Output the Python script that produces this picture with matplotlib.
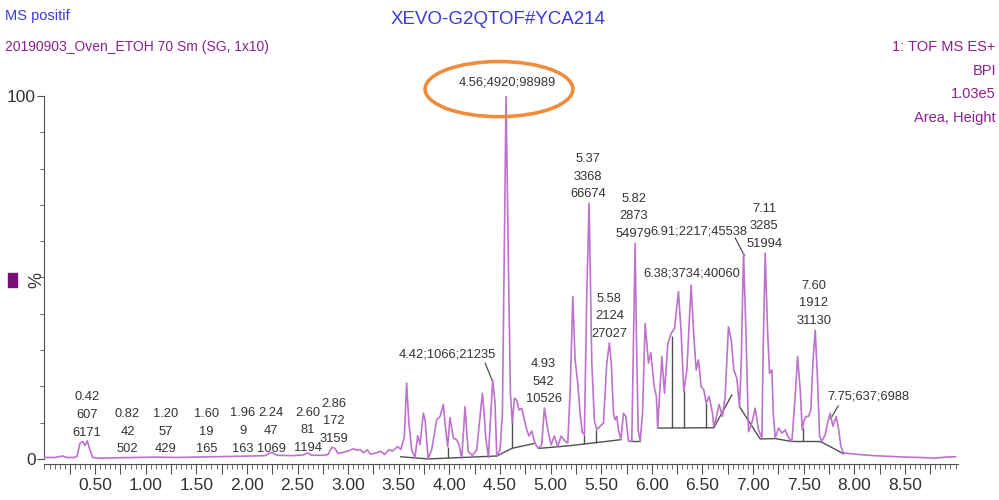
import numpy as np
import matplotlib
matplotlib.use("Agg")
import matplotlib.pyplot as plt
from matplotlib.patches import Ellipse, Rectangle
from matplotlib.ticker import MultipleLocator

plt.rcParams['font.family'] = ['Liberation Sans', 'DejaVu Sans']

# BPI trace: retention time (min) and relative intensity (%)
trace_t = [0.00, 0.10, 0.18, 0.22, 0.30, 0.324, 0.35, 0.377, 0.40, 0.423, 0.449, 0.476,
           0.55, 0.70, 0.90, 1.10, 1.30, 1.50, 1.70, 1.90, 2.05, 2.18, 2.24, 2.30, 2.45,
           2.56, 2.60, 2.64, 2.75, 2.80, 2.84, 2.87, 2.90, 2.95, 3.00, 3.05, 3.09, 3.12,
           3.15, 3.19, 3.22, 3.27, 3.32, 3.36, 3.40, 3.44, 3.49, 3.52, 3.555, 3.578, 3.60,
           3.628, 3.66, 3.687, 3.71, 3.743, 3.76, 3.79, 3.825, 3.875, 3.908, 3.94, 3.957,
           3.983, 4.006, 4.04, 4.072, 4.095, 4.122, 4.155, 4.175, 4.188, 4.227, 4.27, 4.326,
           4.345, 4.359, 4.385, 4.428, 4.451, 4.468, 4.50, 4.524, 4.537, 4.56, 4.583, 4.603,
           4.622, 4.642, 4.665, 4.688, 4.715, 4.741, 4.764, 4.787, 4.814, 4.846, 4.879, 4.912,
           4.939, 4.972, 5.005, 5.037, 5.07, 5.103, 5.143, 5.17, 5.195, 5.219, 5.242, 5.268,
           5.291, 5.314, 5.334, 5.357, 5.38, 5.407, 5.433, 5.456, 5.489, 5.522, 5.555, 5.581,
           5.60, 5.621, 5.637, 5.654, 5.67, 5.694, 5.72, 5.743, 5.769, 5.802, 5.82, 5.835,
           5.85, 5.865, 5.885, 5.908, 5.934, 5.967, 5.99, 6.023, 6.045, 6.058, 6.075, 6.099,
           6.125, 6.158, 6.191, 6.224, 6.263, 6.29, 6.316, 6.346, 6.388, 6.415, 6.438, 6.461,
           6.487, 6.514, 6.537, 6.566, 6.599, 6.612, 6.632, 6.665, 6.698, 6.724, 6.757, 6.784,
           6.81, 6.84, 6.866, 6.883, 6.906, 6.929, 6.955, 6.988, 7.021, 7.054, 7.087, 7.10,
           7.12, 7.143, 7.163, 7.186, 7.20, 7.219, 7.252, 7.285, 7.318, 7.35, 7.384, 7.416,
           7.44, 7.466, 7.486, 7.505, 7.525, 7.548, 7.571, 7.591, 7.614, 7.637, 7.657, 7.68,
           7.713, 7.736, 7.762, 7.789, 7.822, 7.845, 7.868, 7.894, 7.95, 8.05, 8.20, 8.35,
           8.50, 8.65, 8.80, 8.90, 9.00]
trace_pct = [0.4, 0.4, 0.8, 0.4, 0.4, 0.8, 4.3, 4.8, 3.7, 5.0, 2.5, 0.4,
             0.2, 0.3, 0.4, 0.5, 0.4, 0.5, 0.6, 0.7, 0.8, 0.9, 1.8, 1.0, 0.9,
             1.1, 1.7, 1.0, 1.0, 1.2, 3.2, 2.9, 1.5, 1.8, 2.2, 2.8, 2.4, 2.6,
             1.7, 2.5, 1.3, 1.6, 2.1, 1.2, 2.5, 2.2, 3.4, 2.6, 6.0, 20.9, 10.0,
             2.5, 0.4, 6.4, 4.0, 12.6, 10.8, 0.1, 2.5, 10.8, 11.7, 15.0, 9.9,
             3.4, 11.4, 5.7, 5.3, 3.9, 0.2, 14.4, 6.0, 1.9, 1.0, 2.5, 18.1,
             12.0, 6.0, 0.4, 21.8, 15.4, 0.8, 2.5, 12.6, 44.7, 100.0, 54.0, 18.0,
             10.0, 16.7, 16.2, 13.5, 13.9, 10.8, 8.1, 6.3, 7.7, 4.3, 2.9, 3.9,
             14.0, 8.1, 3.9, 6.3, 3.4, 6.3, 4.9, 4.4, 20.0, 44.7, 27.3, 20.9,
             12.6, 7.2, 6.7, 44.7, 70.5, 26.4, 10.4, 8.1, 9.0, 9.9, 26.4, 32.0,
             26.0, 12.6, 10.8, 11.7, 8.1, 5.3, 12.6, 11.7, 4.9, 4.9, 35.0, 59.4,
             30.0, 8.0, 4.9, 12.6, 37.3, 26.4, 29.3, 19.9, 17.2, 8.5, 17.0, 28.2,
             18.1, 31.8, 34.6, 35.9, 46.1, 34.6, 18.5, 24.5, 47.9, 33.7, 24.5, 27.3,
             19.9, 19.0, 15.4, 17.2, 12.6, 9.0, 10.8, 15.0, 11.7, 17.2, 36.4, 32.8,
             24.5, 22.2, 14.4, 26.4, 56.7, 35.5, 7.5, 9.9, 14.0, 8.0, 5.8, 30.0,
             56.7, 35.5, 23.6, 24.5, 12.6, 5.8, 8.5, 7.1, 8.0, 5.8, 4.9, 17.2,
             28.2, 19.0, 8.0, 10.8, 11.7, 11.7, 13.5, 26.4, 35.5, 21.8, 6.3, 4.9,
             6.7, 9.9, 12.6, 9.0, 11.7, 8.1, 3.4, 1.6, 1.5, 1.2, 0.9, 0.7,
             0.5, 0.4, 0.2, 0.5, 0.6]

# integration baselines (polylines)
baselines = [
    ([3.52, 3.79, 4.468], [0.6, 0.0, 0.8]),
    ([4.468, 4.616, 4.846], [0.8, 2.9, 4.3]),
    ([4.879, 5.176, 5.694], [2.9, 3.6, 5.3]),
    ([5.785, 5.885], [4.9, 4.9]),
    ([6.058, 6.612, 6.79], [8.5, 8.6, 17.6]),
    ([6.866, 7.07, 7.219, 7.384, 7.66, 7.70, 7.894], [14.4, 5.5, 5.6, 4.8, 4.8, 4.3, 1.4]),
]
# drop lines between merged peaks: time, bottom, top
drop_t = [3.983, 4.385, 4.616, 5.334, 5.446, 6.197, 6.313, 6.537, 7.49]
drop_lo = [0.3, 0.5, 2.9, 4.0, 4.3, 8.5, 8.5, 8.5, 4.8]
drop_hi = [3.4, 2.8, 12.0, 6.7, 8.1, 34.0, 19.0, 15.4, 8.5]

# peak table: RT; area; height
peak_rt = [0.42, 0.82, 1.20, 1.60, 1.96, 2.24, 2.60, 2.86, 4.42, 4.56, 4.93,
           5.37, 5.58, 5.82, 6.38, 6.91, 7.11, 7.60, 7.75]
peak_area = [607, 42, 57, 19, 9, 47, 81, 172, 1066, 4920, 542,
             3368, 2124, 2873, 3734, 2217, 3285, 1912, 637]
peak_height = [6171, 502, 429, 165, 163, 1069, 1194, 3159, 21235, 98989, 10526,
               66674, 27027, 54979, 40060, 45538, 51994, 31130, 6988]

xtick_labels = ["0.50", "1.00", "1.50", "2.00", "2.50", "3.00", "3.50", "4.00", "4.50",
                "5.00", "5.50", "6.00", "6.50", "7.00", "7.50", "8.00", "8.50"]

# label placement: stacked labels sit above the peak, inline ones have their own spot
stacked_y = {0.42: 5.6, 0.82: 1.0, 1.20: 1.0, 1.60: 1.0, 1.96: 1.2, 2.24: 1.2, 2.60: 1.4,
             2.86: 3.9, 4.93: 14.8, 5.37: 71.3, 5.58: 32.8, 5.82: 60.3, 7.11: 57.6, 7.60: 36.4}
inline_xy = {4.42: (3.977, 28.7), 4.56: (4.57, 103.6), 6.38: (6.398, 51.2),
             6.91: (6.467, 62.8), 7.75: (8.137, 17.1)}
leaders = {4.42: ((4.354, 26.4), (4.423, 21.6)), 6.91: ((6.823, 60.9), (6.915, 56.0)),
           7.75: ((7.841, 14.6), (7.765, 11.0))}

TRACE = '#bd72cc'
GREY = '#505050'
TXT = '#333333'
PURPLE = '#8e1f8e'
BLUE = '#3b3bd6'
LABEL_SIZE = 9.3

fig = plt.figure(figsize=(9.99, 5.0), dpi=100)
ax = fig.add_axes([0.0445, 0.072, 0.914, 0.736])

ax.plot(trace_t, trace_pct, color=TRACE, lw=1.2, zorder=3)
for bx, by in baselines:
    ax.plot(bx, by, color=GREY, lw=1.0, zorder=2)
ax.vlines(drop_t, drop_lo, drop_hi, color=GREY, lw=1.0, zorder=2)

for rt, area, h in zip(peak_rt, peak_area, peak_height):
    if rt in stacked_y:
        ax.text(rt, stacked_y[rt], "%.2f\n%d\n%d" % (rt, area, h), ha='center', va='bottom',
                fontsize=LABEL_SIZE, color=TXT, linespacing=1.62, clip_on=False)
    else:
        x, y = inline_xy[rt]
        ax.text(x, y, "%.2f;%d;%d" % (rt, area, h), ha='center', va='center',
                fontsize=LABEL_SIZE, color=TXT, clip_on=False)
for rt, (p0, p1) in leaders.items():
    ax.plot([p0[0], p1[0]], [p0[1], p1[1]], color=GREY, lw=0.9, clip_on=False)

ax.add_patch(Ellipse((4.49, 101.9), 1.46, 15.2, fill=False, edgecolor='#f08c3c',
                     lw=2.6, clip_on=False, zorder=5))

ax.set_xlim(0, 9.02)
ax.set_ylim(-1.4, 100)
for s in ['top', 'right']:
    ax.spines[s].set_visible(False)
ax.spines['left'].set_bounds(0, 100)
ax.spines['left'].set_color(GREY)
ax.spines['bottom'].set_color(GREY)

major = np.arange(0.25, 9.0, 0.25)
labels = []
k = 0
for m in major:
    if abs(m * 2 - round(m * 2)) < 1e-6:
        labels.append(xtick_labels[k])
        k += 1
    else:
        labels.append("")
ax.set_xticks(major, labels)
ax.xaxis.set_minor_locator(MultipleLocator(0.05))
ax.tick_params(axis='x', which='major', length=7, color=GREY, labelsize=12.5, labelcolor=TXT, pad=3)
ax.tick_params(axis='x', which='minor', length=3.5, color=GREY)
ax.set_yticks([0, 100], ["0", "100"])
ax.yaxis.set_minor_locator(MultipleLocator(10))
ax.tick_params(axis='y', which='major', length=5, color=GREY, labelsize=12.5, labelcolor=TXT, pad=1)
ax.tick_params(axis='y', which='minor', length=3, color=GREY)

fig.text(37 / 999, 1 - 280 / 500, "%", rotation=90, ha='center', va='center',
         fontsize=13, color=TXT)
fig.patches.append(Rectangle((8 / 999, 1 - 287 / 500), 9 / 999, 14 / 500,
                             transform=fig.transFigure, color='#7a0f7a', figure=fig))

fig.text(5 / 999, 1 - 16 / 500, "MS positif", ha='left', va='center', fontsize=10.5, color=BLUE)
fig.text(5 / 999, 1 - 47 / 500, "20190903_Oven_ETOH 70 Sm (SG, 1x10)", ha='left', va='center',
         fontsize=10, color=PURPLE)
fig.text(498 / 999, 1 - 20 / 500, "XEVO-G2QTOF#YCA214", ha='center', va='center',
         fontsize=13.5, color=BLUE)
right_lines = ["1: TOF MS ES+", "BPI", "1.03e5", "Area, Height"]
for i, s in enumerate(right_lines):
    fig.text(996 / 999, 1 - (47 + 23.7 * i) / 500, s, ha='right', va='center',
             fontsize=10.5, color=PURPLE)

fig.savefig("out.png", dpi=100)
